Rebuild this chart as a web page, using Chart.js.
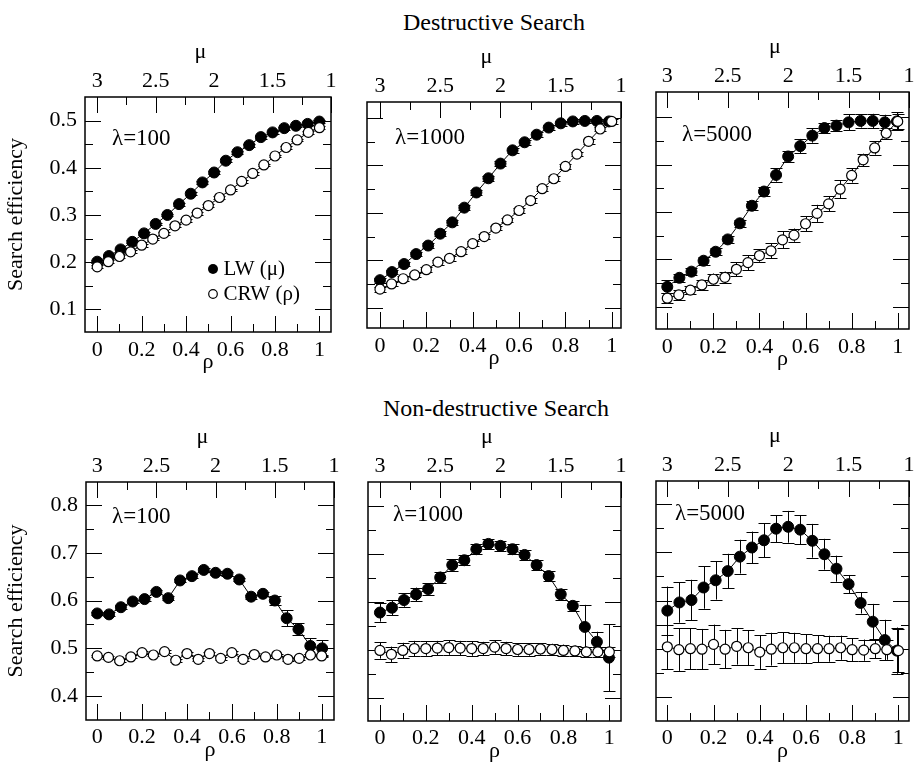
<!DOCTYPE html>
<html><head><meta charset="utf-8">
<script src="https://cdn.jsdelivr.net/npm/chart.js@4.4.0/dist/chart.umd.min.js"></script>
<style>
html,body{margin:0;padding:0;background:#fff;}
body{width:916px;height:773px;position:relative;overflow:hidden;font-family:"Liberation Serif",serif;}
canvas{position:absolute;}
.ttl{position:absolute;font-family:"Liberation Serif","Times New Roman",serif;font-size:24px;line-height:24px;white-space:nowrap;transform:translate(-50%,-50%);color:#000;}
</style></head><body>
<div class="ttl" style="left:494px;top:22px">Destructive Search</div>
<div class="ttl" style="left:496px;top:408px">Non-destructive Search</div>
<script>
// ---------- data ----------
const muValues  = [3.0,2.9,2.8,2.7,2.6,2.5,2.4,2.3,2.2,2.1,2.0,1.9,1.8,1.7,1.6,1.5,1.4,1.3,1.2,1.1];
const rhoValues = [0,0.05,0.1,0.15,0.2,0.25,0.3,0.35,0.4,0.45,0.5,0.55,0.6,0.65,0.7,0.75,0.8,0.85,0.9,0.95,1.0];
const rhoTickLabels = [0,0.2,0.4,0.6,0.8,1];
const muTickLabels  = [3,2.5,2,1.5,1];
const yTicksDestructive    = [0.1,0.2,0.3,0.4,0.5];
const yTicksNonDestructive = [0.4,0.5,0.6,0.7,0.8];
const seriesLabels = ['LW (\u03bc)','CRW (\u03c1)'];
const lambdaLabels = ['\u03bb=100','\u03bb=1000','\u03bb=5000'];

// Destructive search
const lwD100     = [0.201,0.213,0.227,0.243,0.261,0.281,0.300,0.323,0.345,0.369,0.390,0.415,0.433,0.448,0.465,0.475,0.484,0.489,0.493,0.498];
const lwD100Err  = [0.003,0.003,0.003,0.003,0.003,0.003,0.003,0.003,0.003,0.003,0.003,0.003,0.003,0.003,0.003,0.003,0.003,0.003,0.003,0.003];
const crwD100    = [0.190,0.201,0.212,0.222,0.236,0.249,0.261,0.277,0.289,0.304,0.320,0.337,0.353,0.371,0.388,0.406,0.425,0.443,0.459,0.475,0.485];
const crwD100Err = [0.003,0.003,0.003,0.003,0.003,0.003,0.003,0.003,0.003,0.003,0.003,0.003,0.003,0.003,0.003,0.003,0.003,0.003,0.003,0.003,0.003];

const lwD1000     = [0.158,0.175,0.192,0.213,0.231,0.256,0.280,0.311,0.343,0.373,0.404,0.432,0.449,0.465,0.480,0.489,0.493,0.494,0.494,0.493];
const lwD1000Err  = [0.005,0.005,0.005,0.005,0.005,0.005,0.005,0.005,0.005,0.005,0.005,0.005,0.005,0.005,0.005,0.005,0.005,0.005,0.005,0.005];
const crwD1000    = [0.139,0.150,0.161,0.169,0.180,0.196,0.204,0.218,0.235,0.250,0.268,0.285,0.305,0.326,0.351,0.372,0.398,0.424,0.451,0.477,0.493];
const crwD1000Err = [0.005,0.005,0.005,0.005,0.005,0.005,0.005,0.005,0.005,0.005,0.005,0.005,0.005,0.005,0.005,0.005,0.005,0.005,0.005,0.005,0.005];

const lwD5000     = [0.142,0.161,0.174,0.197,0.216,0.242,0.276,0.313,0.343,0.378,0.417,0.439,0.461,0.477,0.482,0.489,0.492,0.492,0.489,0.491];
const lwD5000Err  = [0.014,0.009,0.007,0.008,0.007,0.008,0.008,0.009,0.010,0.014,0.011,0.015,0.015,0.011,0.012,0.017,0.014,0.015,0.016,0.019];
const crwD5000    = [0.118,0.125,0.135,0.146,0.158,0.162,0.179,0.193,0.208,0.218,0.241,0.251,0.275,0.297,0.317,0.348,0.377,0.410,0.435,0.466,0.491];
const crwD5000Err = [0.011,0.010,0.008,0.010,0.012,0.012,0.015,0.016,0.013,0.016,0.018,0.014,0.016,0.018,0.016,0.019,0.015,0.013,0.014,0.012,0.016];

// Non-destructive search
const lwN100     = [0.573,0.571,0.586,0.598,0.603,0.618,0.605,0.642,0.651,0.664,0.658,0.656,0.644,0.608,0.614,0.600,0.563,0.540,0.505,0.500];
const lwN100Err  = [0.004,0.004,0.004,0.004,0.004,0.004,0.004,0.004,0.004,0.004,0.004,0.004,0.004,0.004,0.004,0.010,0.017,0.012,0.016,0.017];
const crwN100    = [0.484,0.481,0.474,0.482,0.491,0.486,0.493,0.475,0.489,0.477,0.489,0.479,0.491,0.477,0.487,0.482,0.486,0.477,0.479,0.486,0.484];
const crwN100Err = [0.003,0.003,0.003,0.003,0.003,0.003,0.003,0.003,0.003,0.003,0.003,0.003,0.003,0.003,0.003,0.003,0.003,0.003,0.003,0.003,0.003];

const lwN1000     = [0.578,0.588,0.604,0.616,0.627,0.651,0.677,0.687,0.710,0.721,0.717,0.710,0.698,0.677,0.654,0.616,0.592,0.548,0.517,0.484];
const lwN1000Err  = [0.019,0.016,0.014,0.014,0.012,0.012,0.012,0.010,0.010,0.010,0.010,0.010,0.010,0.010,0.010,0.012,0.010,0.046,0.021,0.070];
const crwN1000    = [0.499,0.491,0.499,0.503,0.503,0.504,0.505,0.504,0.503,0.503,0.506,0.503,0.501,0.501,0.502,0.501,0.499,0.498,0.496,0.496,0.496];
const crwN1000Err = [0.017,0.016,0.016,0.016,0.015,0.015,0.015,0.015,0.015,0.014,0.014,0.014,0.013,0.013,0.012,0.012,0.012,0.011,0.011,0.010,0.010];

const lwN5000     = [0.579,0.596,0.601,0.627,0.642,0.661,0.691,0.710,0.725,0.749,0.753,0.747,0.724,0.696,0.666,0.634,0.595,0.556,0.518,0.496];
const lwN5000Err  = [0.050,0.042,0.042,0.044,0.040,0.036,0.035,0.033,0.035,0.028,0.033,0.030,0.035,0.032,0.027,0.019,0.022,0.037,0.042,0.048];
const crwN5000    = [0.504,0.498,0.500,0.499,0.509,0.499,0.505,0.502,0.493,0.499,0.502,0.502,0.500,0.500,0.500,0.502,0.498,0.497,0.500,0.498,0.496];
const crwN5000Err = [0.046,0.044,0.043,0.042,0.041,0.040,0.038,0.036,0.035,0.034,0.032,0.031,0.030,0.028,0.027,0.025,0.024,0.022,0.020,0.021,0.045];

// ---------- layout ----------
const FONT = 'Liberation Serif';
const panels = [
  {row:0,col:0,frame:[85,97,331,332], rho:[-0.055,1.052], y:[0.052,0.55], yTicks:yTicksDestructive, lw:lwD100, lwErr:lwD100Err, crw:crwD100, crwErr:crwD100Err, lam:lambdaLabels[0], lamPos:[27,42], legend:true},
  {row:0,col:1,frame:[367,102,621,328], rho:[-0.056,1.040], y:[0.057,0.534], yTicks:yTicksDestructive, lw:lwD1000, lwErr:lwD1000Err, crw:crwD1000, crwErr:crwD1000Err, lam:lambdaLabels[1], lamPos:[28,36]},
  {row:0,col:2,frame:[656,92,909,329], rho:[-0.049,1.049], y:[0.053,0.553], yTicks:yTicksDestructive, lw:lwD5000, lwErr:lwD5000Err, crw:crwD5000, crwErr:crwD5000Err, lam:lambdaLabels[2], lamPos:[26,43]},
  {row:1,col:0,frame:[86,482,334,720], rho:[-0.050,1.055], y:[0.35,0.848], yTicks:yTicksNonDestructive, lw:lwN100, lwErr:lwN100Err, crw:crwN100, crwErr:crwN100Err, lam:lambdaLabels[0], lamPos:[26,35]},
  {row:1,col:1,frame:[368,482,621,721], rho:[-0.052,1.051], y:[0.352,0.85], yTicks:yTicksNonDestructive, lw:lwN1000, lwErr:lwN1000Err, crw:crwN1000, crwErr:crwN1000Err, lam:lambdaLabels[1], lamPos:[25,33]},
  {row:1,col:2,frame:[656,481,909,721], rho:[-0.049,1.046], y:[0.35,0.848], yTicks:yTicksNonDestructive, lw:lwN5000, lwErr:lwN5000Err, crw:crwN5000, crwErr:crwN5000Err, lam:lambdaLabels[2], lamPos:[19,33]}
];

function mids(arr){ const out=[]; for(let i=0;i<arr.length-1;i++) out.push((arr[i]+arr[i+1])/2); return out; }
const fmt = v => String(+(+v).toFixed(2));

const decorPlugin = {
  id:'decor',
  beforeDatasetsDraw(chart){
    const {ctx, chartArea:ca} = chart;
    const xs = chart.scales.x, ms = chart.scales.mu, ys = chart.scales.y;
    const p = chart.options.plugins.decor;
    ctx.save();
    ctx.strokeStyle = '#000'; ctx.lineWidth = 1;
    const seg = (x0,y0,x1,y1)=>{ ctx.beginPath(); ctx.moveTo(x0,y0); ctx.lineTo(x1,y1); ctx.stroke(); };
    const MAJ = 16, MIN = 8;
    rhoTickLabels.forEach(v=>{ const px=Math.round(xs.getPixelForValue(v))+0.5; seg(px,ca.bottom,px,ca.bottom-MAJ); });
    mids(rhoTickLabels).forEach(v=>{ const px=Math.round(xs.getPixelForValue(v))+0.5; seg(px,ca.bottom,px,ca.bottom-MIN); });
    muTickLabels.forEach(v=>{ const px=Math.round(ms.getPixelForValue(v))+0.5; seg(px,ca.top,px,ca.top+MAJ); });
    mids(muTickLabels).forEach(v=>{ const px=Math.round(ms.getPixelForValue(v))+0.5; seg(px,ca.top,px,ca.top+MIN); });
    p.yTicks.forEach(v=>{ const py=Math.round(ys.getPixelForValue(v))+0.5; seg(ca.left,py,ca.left+MAJ,py); seg(ca.right,py,ca.right-MAJ,py); });
    mids(p.yTicks).forEach(v=>{ const py=Math.round(ys.getPixelForValue(v))+0.5; seg(ca.left,py,ca.left+MIN,py); seg(ca.right,py,ca.right-MIN,py); });
    chart.data.datasets.forEach((ds,di)=>{
      const meta = chart.getDatasetMeta(di);
      meta.data.forEach((pt,j)=>{
        const v = ds.data[j].y, e = ds.err[j];
        const y0 = ys.getPixelForValue(v-e), y1 = ys.getPixelForValue(v+e);
        const x = Math.round(pt.x)+0.5;
        seg(x,y0,x,y1);
        seg(x-6,Math.round(y0)+0.5,x+6,Math.round(y0)+0.5);
        seg(x-6,Math.round(y1)+0.5,x+6,Math.round(y1)+0.5);
      });
    });
    ctx.restore();
  },
  afterDatasetsDraw(chart){
    const {ctx, chartArea:ca} = chart;
    const p = chart.options.plugins.decor;
    ctx.save();
    ctx.strokeStyle='#000'; ctx.lineWidth=1.5;
    ctx.strokeRect(ca.left, ca.top, ca.right-ca.left, ca.bottom-ca.top);
    ctx.fillStyle='#000';
    ctx.textBaseline='middle'; ctx.textAlign='left';
    ctx.font = "23px "+FONT;
    ctx.fillText(p.lam, ca.left+p.lamPos[0], ca.top+p.lamPos[1]);
    if (p.legend){
      const ds = chart.data.datasets;
      const lx = ca.left+128, ly = [ca.top+172, ca.top+197];
      ctx.font = "21px "+FONT;
      ctx.beginPath(); ctx.arc(lx, ly[0], 5, 0, Math.PI*2); ctx.fillStyle='#000'; ctx.fill();
      ctx.beginPath(); ctx.arc(lx, ly[1], 4.3, 0, Math.PI*2); ctx.fillStyle='#fff'; ctx.fill(); ctx.lineWidth=1.2; ctx.stroke();
      ctx.fillStyle='#000';
      ctx.fillText(ds[0].label, lx+10.5, ly[0]);
      ctx.fillText(ds[1].label, lx+10.5, ly[1]);
    }
    ctx.restore();
  }
};

function makeChart(p){
  const L = p.col===0 ? p.frame[0] : 20;
  const R = 16, T = 58, B = 44;
  const W = p.frame[2]-p.frame[0] + L + R;
  const H = p.frame[3]-p.frame[1] + T + B;
  const cv = document.createElement('canvas');
  cv.width = W; cv.height = H;
  cv.style.left = (p.frame[0]-L)+'px'; cv.style.top = (p.frame[1]-T)+'px';
  cv.style.width = W+'px'; cv.style.height = H+'px';
  document.body.appendChild(cv);
  const muMax = 3 - 2*p.rho[0]/p.rho[1];
  const tickFont = {family:FONT, size:22, lineHeight:1, style:'normal', weight:'normal'};
  new Chart(cv, {
    type:'scatter',
    data:{datasets:[
      {label:seriesLabels[0], data:muValues.map((m,i)=>({x:m,y:p.lw[i]})), err:p.lwErr, xAxisID:'mu', yAxisID:'y',
       showLine:true, borderColor:'#000', borderWidth:1, pointRadius:5.5, pointBackgroundColor:'#000', pointBorderColor:'#000', pointBorderWidth:1, order:1},
      {label:seriesLabels[1], data:rhoValues.map((r,i)=>({x:r,y:p.crw[i]})), err:p.crwErr, xAxisID:'x', yAxisID:'y',
       showLine:true, borderColor:'#000', borderWidth:1, pointRadius:5, pointBackgroundColor:'#fff', pointBorderColor:'#000', pointBorderWidth:1.2, order:0}
    ]},
    options:{
      responsive:false, animation:false, devicePixelRatio:1,
      font:{family:FONT},
      layout:{padding:{left:0,right:R,top:0,bottom:0}},
      plugins:{legend:{display:false}, tooltip:{enabled:false},
        decor:{yTicks:p.yTicks, lam:p.lam, lamPos:p.lamPos, legend:!!p.legend}},
      scales:{
        x:{type:'linear', position:'bottom', min:p.rho[0], max:p.rho[1],
           afterBuildTicks:s=>{ s.ticks = rhoTickLabels.map(v=>({value:v})); },
           afterFit:s=>{ s.height = B; },
           grid:{display:false, drawTicks:false}, border:{display:false},
           ticks:{padding:p.row===0?7:6, color:'#000', font:tickFont, callback:fmt, maxRotation:0, autoSkip:false},
           title:{display:true, text:'\u03c1', color:'#000', font:tickFont, padding:{top:0,bottom:2.5}}},
        mu:{type:'linear', position:'top', reverse:true, min:1, max:muMax,
           afterBuildTicks:s=>{ s.ticks = muTickLabels.map(v=>({value:v})); },
           afterFit:s=>{ s.height = T; },
           grid:{display:false, drawTicks:false}, border:{display:false},
           ticks:{padding:4.5, color:'#000', font:tickFont, callback:fmt, maxRotation:0, autoSkip:false},
           title:{display:true, text:'\u03bc\u2002\u2009', color:'#000', font:tickFont, padding:{top:2.5,bottom:0}}},
        y:{type:'linear', position:'left', min:p.y[0], max:p.y[1],
           afterBuildTicks:s=>{ s.ticks = p.yTicks.map(v=>({value:v})); },
           afterFit:s=>{ s.width = L; },
           grid:{display:false, drawTicks:false}, border:{display:false},
           ticks:{display:p.col===0, padding:8, color:'#000', font:tickFont, callback:fmt, autoSkip:false},
           title:{display:p.col===0, text:'Search efficiency', color:'#000', font:tickFont, padding:{top:5,bottom:0}}}
      }
    },
    plugins:[decorPlugin]
  });
}
Chart.defaults.font.family = FONT;
panels.forEach(makeChart);
</script>
</body></html>
